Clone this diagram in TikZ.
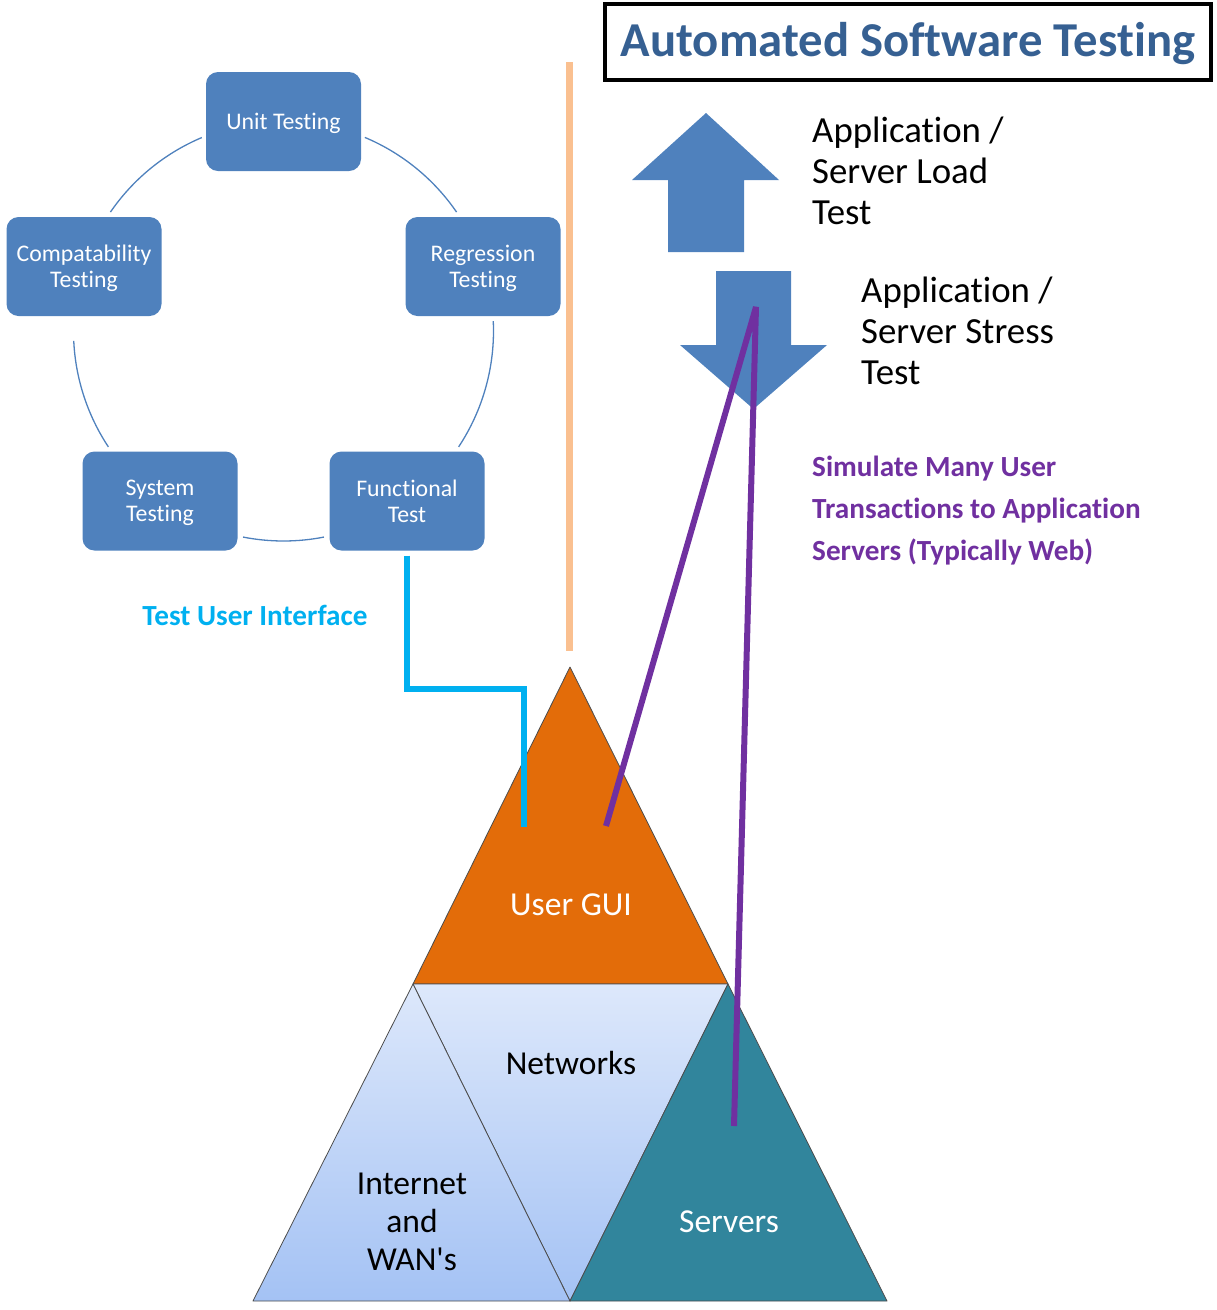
\documentclass[tikz,border=0pt]{standalone}
\usepackage{fontspec}
\setmainfont{Carlito}[Ligatures=NoCommon]
\usetikzlibrary{positioning}

\definecolor{boxblue}{RGB}{79,129,189}
\definecolor{titleblue}{RGB}{54,96,146}
\definecolor{guiorange}{RGB}{227,108,9}
\definecolor{serverteal}{RGB}{49,133,156}
\definecolor{netlight}{RGB}{221,232,251}
\definecolor{netdark}{RGB}{164,194,244}
\definecolor{uiblue}{RGB}{0,176,240}
\definecolor{simpurple}{RGB}{112,48,160}
\definecolor{divider}{RGB}{250,192,144}

\begin{document}
\begin{tikzpicture}
[
    x=1pt, y=-1pt,
    % Everything is placed in pixels of the page, y grows downwards
    % Ring boxes are named B-<name>, pyramid corners P-<name>
]

%=================================== Start ===================================
\tikzstyle{box}  = [fill=boxblue, rounded corners=12pt, minimum width=155pt, minimum height=99pt,
                    inner sep=0pt, text depth=0pt, align=center, text=white,
                    font=\fontsize{23.8}{26}\selectfont]
\tikzstyle{ring} = [draw=boxblue, line width=1.3pt]
\tikzstyle{edge} = [draw=black!70, line width=0.8pt, line join=round]
\tikzstyle{big}  = [inner sep=0pt, align=left, anchor=west, font=\fontsize{36.8}{41}\selectfont]
\tikzstyle{pyr}  = [inner sep=0pt, align=center, font=\fontsize{33.5}{38}\selectfont]
\tikzstyle{note} = [inner sep=0pt, align=left, font=\bfseries\fontsize{29.2}{42}\selectfont]
\tikzstyle{ui}   = [draw=uiblue, line width=6pt]
\tikzstyle{sim}  = [draw=simpurple, line width=6pt, line join=bevel]

\useasboundingbox (0,0) rectangle (1217,1310);

{
    % Ring of test kinds
    \coordinate (ring-c) at (283.5,331);
    \foreach \a / \b in {-67.2/-34.5, -2.7/33.5, 78.9/101.1, 146.5/177.3, -145.5/-112.9}
        \draw[ring] (ring-c) ++(\a:210) arc[start angle=\a, end angle=\b, radius=210];

    \foreach \name / \x / \y / \txt in {unit/283.5/121.5/{Unit Testing},
                                        regr/483/266.5/{Regression\\Testing},
                                        func/407/501/{Functional\\Test},
                                        syst/160/501/{System\\Testing},
                                        comp/84/266.5/{Compatability\\Testing}}
        \node[box] (B-\name) at (\x,\y) {\txt};

    % Divider
    \coordinate (div-top) at (569,62);
    \coordinate (div-bot) at (569,651);
    \draw[draw=divider, line width=7pt] (div-top) -- (div-bot);

    % Title
    \node[draw, line width=4pt, minimum width=606pt, minimum height=76pt, inner sep=0pt,
          text depth=5pt, text=titleblue, font=\bfseries\fontsize{48.7}{50}\selectfont]
          (title) at (908,42) {Automated Software Testing};

    % Load / stress arrows
    \fill[boxblue] (668,252) -- (668,180) -- (632,180) -- (706,113) -- (779,180)
                   -- (744,180) -- (744,252) -- cycle;
    \fill[boxblue] (716,271) -- (791,271) -- (791,345) -- (827,345) -- (753.5,409)
                   -- (680,345) -- (716,345) -- cycle;
    \node[big] (T-load)   at (812,171) {Application /\\Server Load\\Test};
    \node[big] (T-stress) at (861,331) {Application /\\Server Stress\\Test};

    \node[note, text=simpurple, anchor=west] (T-sim) at (812,511)
          {Simulate Many User\\Transactions to Application\\Servers (Typically Web)};
    \node[note, text=uiblue] (T-ui) at (255,615) {Test User Interface};

    % Pyramid
    \coordinate (P-top) at (570,667);
    \coordinate (P-gl)  at (413,984);
    \coordinate (P-gr)  at (728,984);
    \coordinate (P-bl)  at (253,1301);
    \coordinate (P-bm)  at (570,1301);
    \coordinate (P-br)  at (887,1301);

    \draw[edge, fill=guiorange] (P-top) -- (P-gr) -- (P-gl) -- cycle;
    \draw[edge, top color=netlight, bottom color=netdark] (P-gl) -- (P-gr) -- (P-bm) -- cycle;
    \draw[edge, top color=netlight, bottom color=netdark] (P-gl) -- (P-bm) -- (P-bl) -- cycle;
    \draw[edge, fill=serverteal] (P-gr) -- (P-br) -- (P-bm) -- cycle;

    \node[pyr, text=white] (L-gui)  at (571,905)  {User GUI};
    \node[pyr]             (L-net)  at (571,1063) {Networks};
    \node[pyr]             (L-wan)  at (412,1222) {Internet\\and\\WAN\textquotesingle s};
    \node[pyr, text=white] (L-srv)  at (729,1222) {Servers};

    % Connectors
    \coordinate (ui-bend)   at (524,689);
    \coordinate (ui-hit)    at (524,827);
    \draw[ui, shorten <=5pt] (B-func.south) |- (ui-bend) -- (ui-hit);

    \coordinate (gui-hit)   at (606,826);
    \coordinate (arrow-hit) at (756,307);
    \coordinate (srv-hit)   at (734,1126);
    \draw[sim] (gui-hit) -- (arrow-hit) -- (srv-hit);
}
%==================================== END ====================================

\end{tikzpicture}
\end{document}
